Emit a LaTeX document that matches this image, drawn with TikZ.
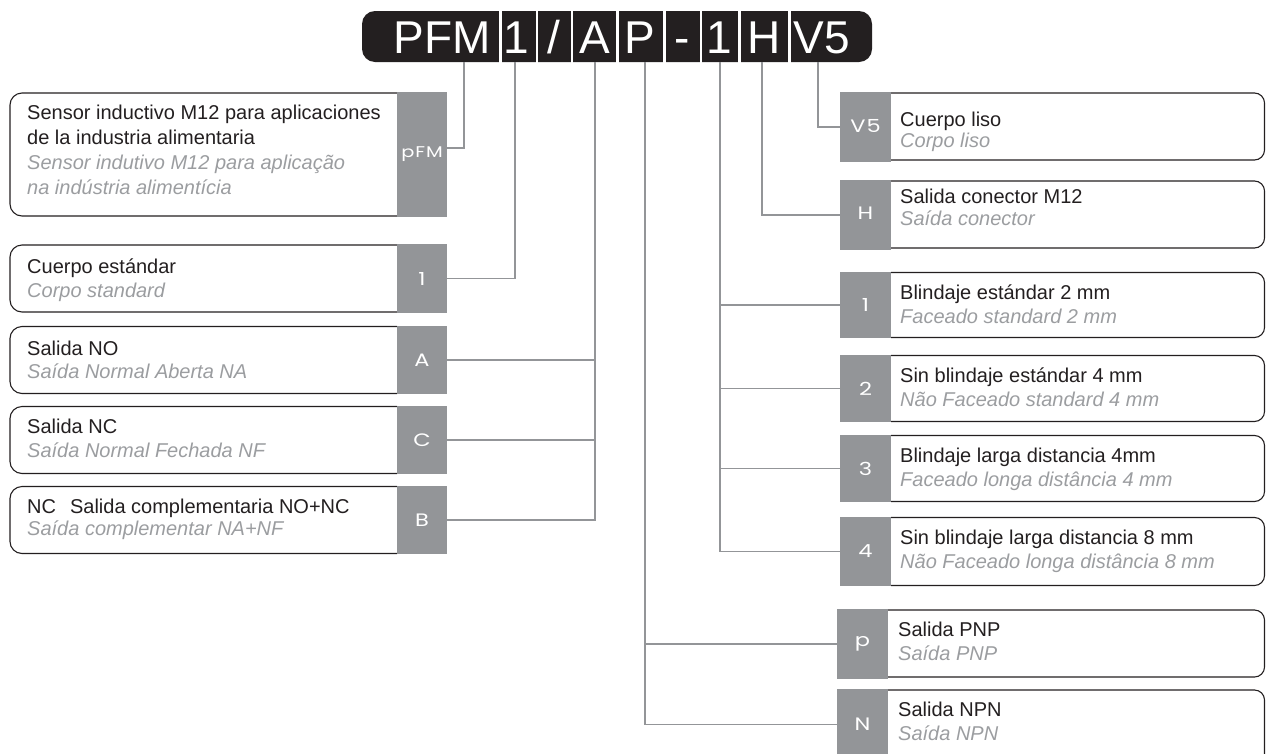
\documentclass[tikz,border=0pt]{standalone}
\usepackage{fontspec}
\setmainfont{Liberation Sans}
\newfontfamily\tabfont{Poppins}[FakeStretch=1.25,LetterSpace=6]
\definecolor{tabgray}{HTML}{939598}
\definecolor{ink}{HTML}{231F20}
\definecolor{ptgray}{HTML}{9B9DA0}
\begin{document}
\begin{tikzpicture}[x=1pt,y=-1pt,
  tab/.style={fill=tabgray, inner sep=0, text=white, font=\tabfont\fontsize{18}{18}\selectfont},
  ltab/.style={tab, minimum width=50pt},
  rtab/.style={tab, minimum width=51pt},
  es/.style={anchor=base west, inner sep=0, text=ink, font=\fontsize{20}{24}\selectfont},
  pt/.style={anchor=base west, inner sep=0, text=ptgray, font=\itshape\fontsize{20}{24}\selectfont},
  lbox/.style={draw=ink, line width=1.1pt, rounded corners=12pt},
  rbox/.style={draw=ink, line width=1.1pt, rounded corners=10pt},
  conn/.style={draw=tabgray, line width=1.6pt},
  hcell/.style={text=white, inner sep=0, font=\fontsize{46}{46}\selectfont, anchor=base}]
\useasboundingbox (0,0) rectangle (1266,753);
\clip (0,0) rectangle (1266,753);

% header bar
\node[fill=ink, rounded corners=13pt, minimum width=510pt, minimum height=51pt, inner sep=0] (bar) at (617,36.5) {};
\foreach \x in {500.5,537,572,617.5,664.5,701,739.5,789.5}
  \draw[white, line width=2.2pt] (\x,10) -- (\x,63);
\node[hcell] (hPFM) at (442,53) {PFM};
\node[hcell] (h1)   at (516,53) {1};
\node[hcell] (hS)   at (554,53) {/};
\node[hcell] (hA)   at (595,53) {A};
\node[hcell] (hP)   at (640,53) {P};
\node[hcell] (hD)   at (682,53) {-};
\node[hcell] (h1b)  at (719,53) {1};
\node[hcell] (hH)   at (764,53) {H};
\node[hcell] (hV)   at (822,53) {V5};

% junctions on the bar
\coordinate (jPFM) at (464,62);
\coordinate (j1)   at (515,62);
\coordinate (jA)   at (595,62);
\coordinate (jP)   at (645,62);
\coordinate (j1b)  at (720,62);
\coordinate (jH)   at (762,62);
\coordinate (jV)   at (818,62);

% left boxes
\draw[lbox] (397,93)  -- (10,93)  -- (10,216) -- (397,216);
\draw[lbox] (397,245) -- (10,245) -- (10,312) -- (397,312);
\draw[lbox] (397,326.5) -- (10,326.5) -- (10,393.5) -- (397,393.5);
\draw[lbox] (397,406.5) -- (10,406.5) -- (10,473.5) -- (397,473.5);
\draw[lbox] (397,486.5) -- (10,486.5) -- (10,553.5) -- (397,553.5);

% right boxes
\draw[rbox] (891,93)  -- (1264.5,93)  -- (1264.5,160) -- (891,160);
\draw[rbox] (891,181) -- (1264.5,181) -- (1264.5,248) -- (891,248);
\draw[rbox] (891,272.5) -- (1264.5,272.5) -- (1264.5,337.5) -- (891,337.5);
\draw[rbox] (891,355.5) -- (1264.5,355.5) -- (1264.5,421.5) -- (891,421.5);
\draw[rbox] (891,435.5) -- (1264.5,435.5) -- (1264.5,501.5) -- (891,501.5);
\draw[rbox] (891,517.5) -- (1264.5,517.5) -- (1264.5,585.5) -- (891,585.5);
\draw[rbox] (888,610) -- (1264.5,610) -- (1264.5,677) -- (888,677);
\draw[rbox] (888,690) -- (1264.5,690) -- (1264.5,770) -- (888,770);

% left tabs
\node[ltab, minimum height=125pt] (tPFM) at (422,154.5) {\raisebox{-9pt}{\fontsize{15.5}{16}\selectfont pFM}};
\node[ltab, minimum height=69pt]  (tOne) at (422,278.5) {1};
\node[ltab, minimum height=68pt]  (tA)   at (422,360) {A};
\node[ltab, minimum height=68pt]  (tC)   at (422,440) {C};
\node[ltab, minimum height=68pt]  (tB)   at (422,520) {B};

% right tabs
\node[rtab, minimum height=70pt] (tV)  at (865.5,127) {\raisebox{3pt}{V5}};
\node[rtab, minimum height=70pt] (tH)  at (865.5,215) {\raisebox{3pt}{H}};
\node[rtab, minimum height=66pt] (tS1) at (865.5,305) {1};
\node[rtab, minimum height=67pt] (tS2) at (865.5,388.5) {2};
\node[rtab, minimum height=67pt] (tS3) at (865.5,468.5) {3};
\node[rtab, minimum height=69pt] (tS4) at (865.5,551.5) {4};
\node[rtab, minimum height=70pt] (tP)  at (862.5,644) {p};
\node[rtab, minimum height=71pt] (tN)  at (862.5,724.5) {N};

% connectors
\draw[conn] (jPFM) |- ([yshift=6.5pt]tPFM.east);
\draw[conn] (j1) |- (tOne.east);
\draw[conn] (jA) |- (tB.east);
\draw[conn] (tA.east) -- (tA.east -| jA);
\draw[conn] (tC.east) -- (tC.east -| jA);
\draw[conn] (jP) |- (tN.west);
\draw[conn] (tP.west) -- (tP.west -| jP);
\draw[conn] (j1b) |- (tS4.west);
\draw[conn] (tS1.west) -- (tS1.west -| j1b);
\draw[conn] (tS2.west) -- (tS2.west -| j1b);
\draw[conn] (tS3.west) -- (tS3.west -| j1b);
\draw[conn] (jH) |- (tH.west);
\draw[conn] (jV) |- (tV.west);

% left texts
\node[es] (lPFMa) at (27,119) {Sensor inductivo M12 para aplicaciones};
\node[es] (lPFMb) at (27,144) {de la industria alimentaria};
\node[pt] (lPFMc) at (27,169) {Sensor indutivo M12 para aplicação};
\node[pt] (lPFMd) at (27,194) {na indústria alimentícia};
\node[es] (l1a) at (27,273) {Cuerpo estándar};
\node[pt] (l1b) at (27,297) {Corpo standard};
\node[es] (lAa) at (27,355) {Salida NO};
\node[pt] (lAb) at (27,378) {Saída Normal Aberta NA};
\node[es] (lCa) at (27,433) {Salida NC};
\node[pt] (lCb) at (27,457) {Saída Normal Fechada NF};
\node[es] (lBa) at (27,513) {NC\hspace{14pt}Salida complementaria NO+NC};
\node[pt] (lBb) at (27,535) {Saída complementar NA+NF};

% right texts
\node[es] (xVa) at (900,126) {Cuerpo liso};
\node[pt] (xVb) at (900,147) {Corpo liso};
\node[es] (xHa) at (900,203) {Salida conector M12};
\node[pt] (xHb) at (900,225) {Saída conector};
\node[es] (x1a) at (900,299) {Blindaje estándar 2 mm};
\node[pt] (x1b) at (900,323) {Faceado standard 2 mm};
\node[es] (x2a) at (900,382) {Sin blindaje estándar 4 mm};
\node[pt] (x2b) at (900,406) {Não Faceado standard 4 mm};
\node[es] (x3a) at (900,462) {Blindaje larga distancia 4mm};
\node[pt] (x3b) at (900,486) {Faceado longa distância 4 mm};
\node[es] (x4a) at (900,544) {Sin blindaje larga distancia 8 mm};
\node[pt] (x4b) at (900,568) {Não Faceado longa distância 8 mm};
\node[es] (xPa) at (898,636) {Salida PNP};
\node[pt] (xPb) at (898,660) {Saída PNP};
\node[es] (xNa) at (898,716) {Salida NPN};
\node[pt] (xNb) at (898,740) {Saída NPN};
\end{tikzpicture}
\end{document}
